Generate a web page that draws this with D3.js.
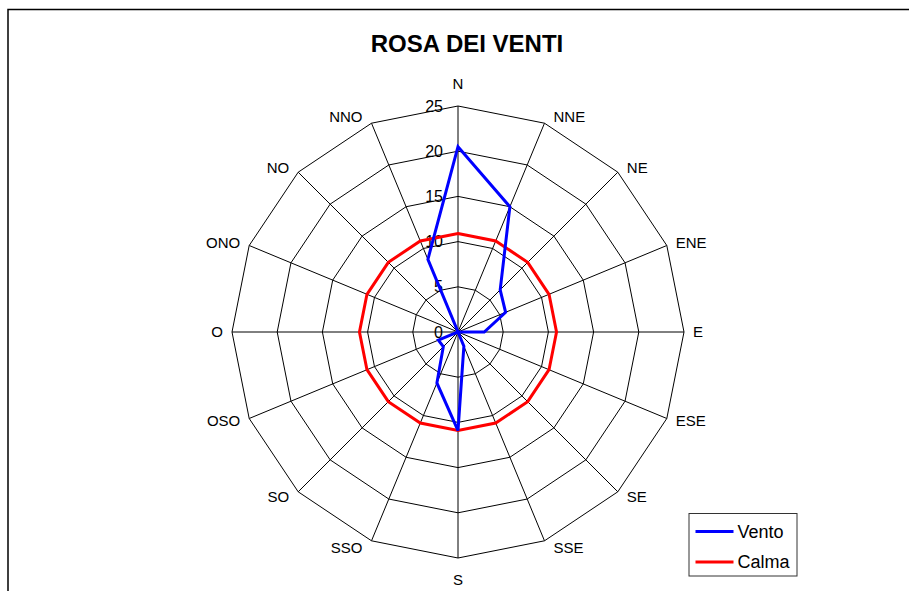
<!DOCTYPE html>
<html>
<head>
<meta charset="utf-8">
<script src="https://cdn.jsdelivr.net/npm/d3@7"></script>
<style>
  html, body { margin: 0; padding: 0; background: #fff; }
  svg { display: block; font-family: "Liberation Sans", Arial, sans-serif; }
</style>
</head>
<body>
<div id="chart"></div>
<script>
// direzioni (in senso orario partendo da Nord)
const directions = ['N', 'NNE', 'NE', 'ENE', 'E', 'ESE', 'SE', 'SSE',
  'S', 'SSO', 'SO', 'OSO', 'O', 'ONO', 'NO', 'NNO'];
const vento = [20.5, 15.0, 6.6, 5.7, 2.9, 0, 0, 1.7, 10.9, 6.1, 2.3, 2.35, 0, 0, 0, 8.7];
const calma = [10.9, 10.9, 10.9, 10.9, 10.9, 10.9, 10.9, 10.9, 10.9, 10.9, 10.9, 10.9, 10.9, 10.9, 10.9, 10.9];
const ticks = [0, 5, 10, 15, 20, 25];
const seriesNames = ['Vento', 'Calma'];
const seriesColors = ['#0000ff', '#ff0000'];

const W = 909, H = 591;
const cx = 458, cy = 332, R = 226;

const svg = d3.select('#chart').append('svg')
  .attr('width', W).attr('height', H);

// cornice del grafico (esce dal bordo destro e inferiore)
svg.append('rect')
  .attr('x', 8).attr('y', 9.5)
  .attr('width', 1000).attr('height', 1000)
  .attr('fill', 'none').attr('stroke', '#000').attr('stroke-width', 1.5);

svg.append('text')
  .attr('x', 467).attr('y', 52)
  .attr('text-anchor', 'middle')
  .attr('font-size', '24px').attr('font-weight', 'bold')
  .attr('fill', '#000')
  .text('ROSA DEI VENTI');

const r = d3.scaleLinear().domain([0, 25]).range([0, R]);
const angle = d3.scalePoint().domain(directions).range([0, 2 * Math.PI * 15 / 16]);

const g = svg.append('g').attr('transform', `translate(${cx},${cy})`);

// griglia: poligoni a 16 lati
const ring = d3.lineRadial()
  .angle((d) => angle(d))
  .curve(d3.curveLinearClosed);

ticks.filter((t) => t > 0).forEach((t) => {
  g.append('path')
    .attr('d', ring.radius(r(t))(directions))
    .attr('fill', 'none')
    .attr('stroke', '#000')
    .attr('stroke-width', 1);
});

g.selectAll('line.spoke')
  .data(directions)
  .join('line')
  .attr('class', 'spoke')
  .attr('x1', 0).attr('y1', 0)
  .attr('x2', (d) => R * Math.sin(angle(d)))
  .attr('y2', (d) => -R * Math.cos(angle(d)))
  .attr('stroke', '#000')
  .attr('stroke-width', 1);

// etichette delle direzioni
g.selectAll('text.dir')
  .data(directions)
  .join('text')
  .attr('class', 'dir')
  .each(function (d) {
    const a = angle(d);
    const s = Math.sin(a), c = Math.cos(a);
    const vx = R * s, vy = -R * c;
    const t = d3.select(this);
    if (Math.abs(s) < 0.01) {
      t.attr('x', vx).attr('y', vy - c * 22).attr('text-anchor', 'middle');
    } else {
      t.attr('x', vx + (s > 0 ? 9 : -9))
        .attr('y', vy - c * 7)
        .attr('text-anchor', s > 0 ? 'start' : 'end');
    }
  })
  .attr('dy', '0.35em')
  .attr('font-size', '15px')
  .attr('fill', '#000')
  .text((d) => d);

// etichette dei valori sull'asse Nord
g.selectAll('text.tick')
  .data(ticks)
  .join('text')
  .attr('class', 'tick')
  .attr('x', -15)
  .attr('y', (d) => -r(d))
  .attr('dy', '0.35em')
  .attr('text-anchor', 'end')
  .attr('font-size', '16px')
  .attr('fill', '#000')
  .text((d) => d);

// serie
const line = d3.lineRadial()
  .angle((d, i) => angle(directions[i]))
  .radius((d) => r(d))
  .curve(d3.curveLinearClosed);

[calma, vento].forEach((vals, k) => {
  g.append('path')
    .attr('d', line(vals))
    .attr('fill', 'none')
    .attr('stroke', k === 0 ? seriesColors[1] : seriesColors[0])
    .attr('stroke-width', 3)
    .attr('stroke-linejoin', 'miter');
});

// legenda
const lg = svg.append('g').attr('transform', 'translate(689,513.5)');
lg.append('rect')
  .attr('width', 108).attr('height', 62.5)
  .attr('fill', '#fff').attr('stroke', '#333').attr('stroke-width', 1);

seriesNames.forEach((name, i) => {
  const y = 18 + i * 30.6;
  lg.append('line')
    .attr('x1', 6.5).attr('x2', 44.5)
    .attr('y1', y).attr('y2', y)
    .attr('stroke', seriesColors[i]).attr('stroke-width', 3);
  lg.append('text')
    .attr('x', 48.5).attr('y', y)
    .attr('dy', '0.35em')
    .attr('font-size', '18px')
    .attr('fill', '#000')
    .text(name);
});
</script>
</body>
</html>
